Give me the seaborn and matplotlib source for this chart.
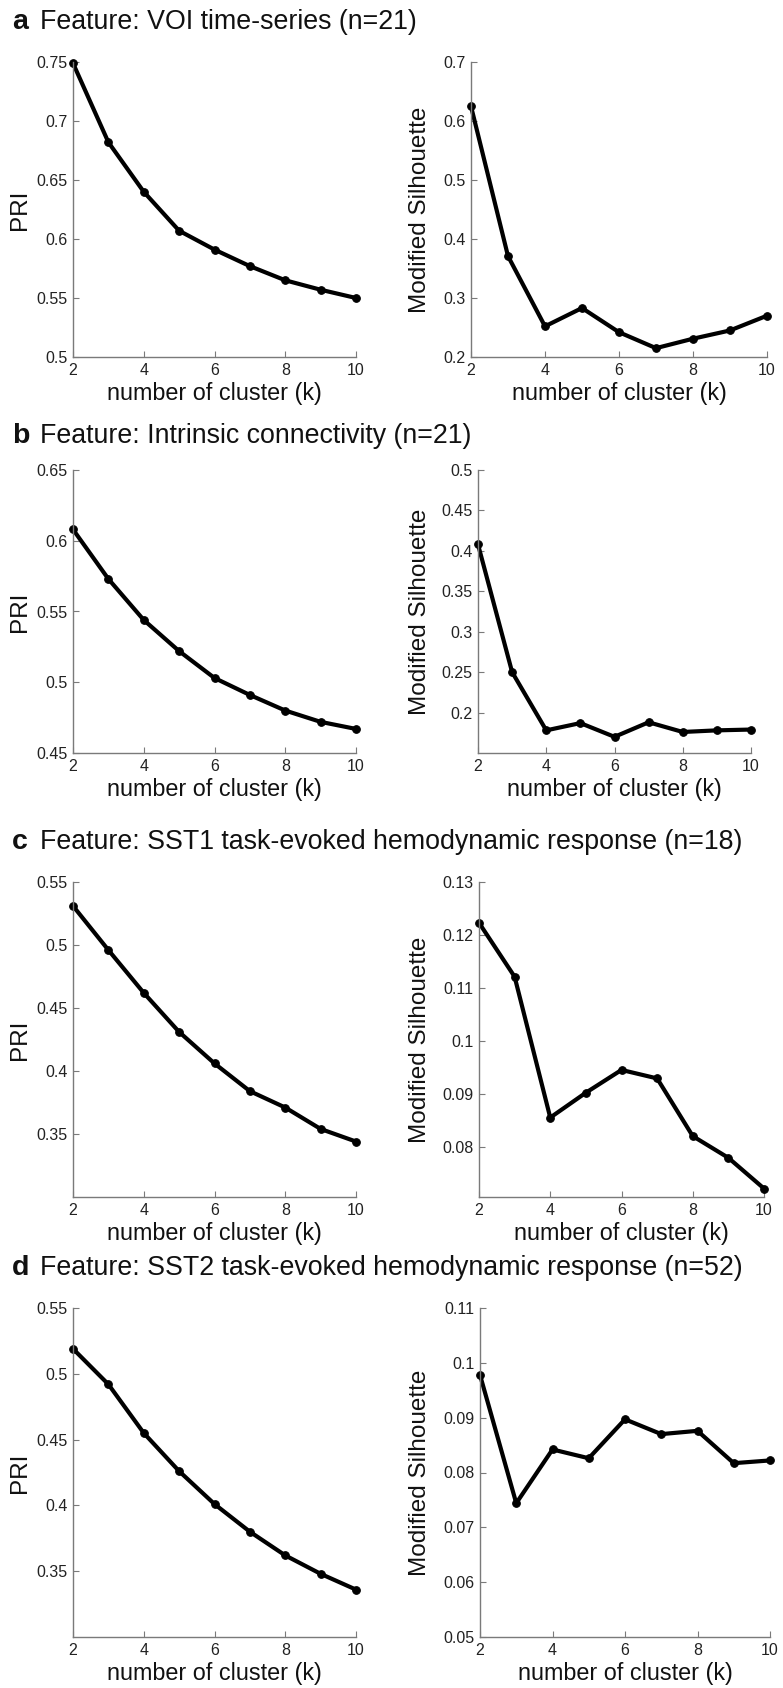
import numpy as np
import matplotlib
matplotlib.use("Agg")
import matplotlib.pyplot as plt
import seaborn as sns

sns.set_theme(style="ticks")
plt.rcParams['font.family'] = ['Liberation Sans', 'DejaVu Sans']

# number of clusters
k_values = [2, 3, 4, 5, 6, 7, 8, 9, 10]

# (a) VOI time-series (n=21)
pri_a = [0.749, 0.682, 0.640, 0.607, 0.591, 0.577, 0.565, 0.557, 0.550]
sil_a = [0.625, 0.371, 0.252, 0.283, 0.242, 0.215, 0.231, 0.245, 0.270]

# (b) Intrinsic connectivity (n=21)
pri_b = [0.608, 0.573, 0.544, 0.522, 0.503, 0.491, 0.480, 0.472, 0.467]
sil_b = [0.408, 0.250, 0.178, 0.187, 0.170, 0.188, 0.176, 0.178, 0.179]

# (c) SST1 task-evoked hemodynamic response (n=18)
pri_c = [0.531, 0.496, 0.462, 0.431, 0.406, 0.384, 0.371, 0.354, 0.344]
sil_c = [0.1223, 0.1121, 0.0855, 0.0902, 0.0945, 0.0929, 0.0820, 0.0779, 0.0721]

# (d) SST2 task-evoked hemodynamic response (n=52)
pri_d = [0.519, 0.492, 0.455, 0.426, 0.401, 0.380, 0.362, 0.348, 0.336]
sil_d = [0.0978, 0.0744, 0.0842, 0.0826, 0.0897, 0.0870, 0.0876, 0.0817, 0.0822]

panel_letters = ['a', 'b', 'c', 'd']
panel_titles = ['Feature: VOI time-series (n=21)',
                'Feature: Intrinsic connectivity (n=21)',
                'Feature: SST1 task-evoked hemodynamic response (n=18)',
                'Feature: SST2 task-evoked hemodynamic response (n=52)']

x_ticks = [2, 4, 6, 8, 10]

pri_yticks = [np.arange(0.5, 0.76, 0.05), np.arange(0.45, 0.66, 0.05),
              np.arange(0.35, 0.56, 0.05), np.arange(0.35, 0.56, 0.05)]
pri_ylims = [(0.5, 0.75), (0.45, 0.65), (0.3, 0.55), (0.3, 0.55)]
sil_yticks = [np.arange(0.2, 0.71, 0.1), np.arange(0.2, 0.51, 0.05),
              np.arange(0.08, 0.131, 0.01), np.arange(0.05, 0.111, 0.01)]
sil_ylims = [(0.2, 0.7), (0.15, 0.5), (0.0705, 0.13), (0.05, 0.11)]

W, H = 783, 1688
fig = plt.figure(figsize=(W / 100, H / 100), dpi=100)

# axes boxes in pixels: (left, right, top, bottom)
left_boxes = [(73, 356, 62, 357), (73, 356, 470, 753), (73, 356, 882, 1197), (73, 356, 1308, 1637)]
right_boxes = [(471, 767, 62, 357), (478, 751, 470, 753), (479, 764, 882, 1197), (480, 770, 1308, 1637)]
title_y = [22, 436, 842, 1268]

grey = '#7a7a7a'


def make_ax(box):
    x0, x1, y0, y1 = box
    return fig.add_axes([x0 / W, 1 - y1 / H, (x1 - x0) / W, (y1 - y0) / H])


def style_ax(ax, yticks, ylim, ylabel, label_x, box):
    ax.set_xlim(2, 10)
    ax.set_ylim(*ylim)
    ax.set_xticks(x_ticks)
    ax.set_xticklabels([str(t) for t in x_ticks])
    ax.set_yticks(yticks)
    ax.set_yticklabels(['%g' % round(t, 3) for t in yticks])
    sns.despine(ax=ax)
    for s in ['left', 'bottom']:
        ax.spines[s].set_color(grey)
        ax.spines[s].set_linewidth(1.0)
    ax.tick_params(direction='in', length=4, width=0.8, color=grey,
                   labelsize=11.5, labelcolor='#222222', pad=4)
    ax.set_xlabel('number of cluster (k)', fontsize=16.8, color='#111111', labelpad=3)
    ax.set_ylabel(ylabel, fontsize=17.5, color='#111111')
    x0, x1 = box[0], box[1]
    ax.yaxis.set_label_coords((label_x - x0) / (x1 - x0), 0.5)


pri_series = [pri_a, pri_b, pri_c, pri_d]
sil_series = [sil_a, sil_b, sil_c, sil_d]

for i in range(4):
    axl = make_ax(left_boxes[i])
    sns.lineplot(x=k_values, y=pri_series[i], ax=axl, color='black', linewidth=3.0,
                 marker='o', markersize=5.5, markeredgecolor='black', clip_on=False)
    style_ax(axl, pri_yticks[i], pri_ylims[i], 'PRI', 31, left_boxes[i])

    axr = make_ax(right_boxes[i])
    sns.lineplot(x=k_values, y=sil_series[i], ax=axr, color='black', linewidth=3.0,
                 marker='o', markersize=5.5, markeredgecolor='black', clip_on=False)
    style_ax(axr, sil_yticks[i], sil_ylims[i], 'Modified Silhouette', 431, right_boxes[i])

    fig.text(12 / W, 1 - title_y[i] / H, panel_letters[i], fontsize=20.5, fontweight='bold',
             va='center', ha='left', color='#111111')
    fig.text(40 / W, 1 - title_y[i] / H, panel_titles[i], fontsize=19.3,
             va='center', ha='left', color='#111111')

fig.savefig('out.png', dpi=100, facecolor='white')
